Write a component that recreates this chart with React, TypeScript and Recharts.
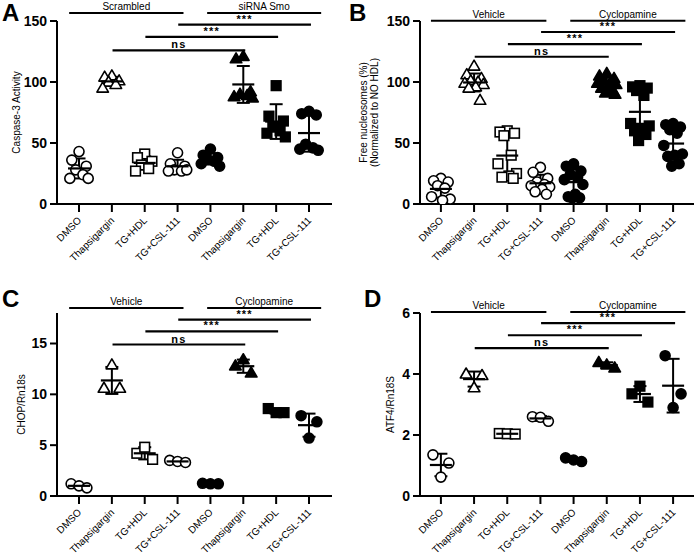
import React from 'react';
import { ComposedChart, Scatter, XAxis, YAxis, ErrorBar, ReferenceLine, Label } from 'recharts';

const categories = ['DMSO', 'Thapsigargin', 'TG+HDL', 'TG+CSL-111', 'DMSO', 'Thapsigargin', 'TG+HDL', 'TG+CSL-111'];
const markerKinds = ['circle', 'triangle', 'square', 'circle', 'circle', 'triangle', 'square', 'circle'];
const markerFilled = [false, false, false, false, true, true, true, true];
const bracketLabels = ['ns', '***', '***'];

// A: Caspase-3 activity, one list per group
const caspase3 = [
  [43, 36, 31, 28, 24, 21, 21],
  [105, 104, 101, 100, 98, 95],
  [41, 38, 35, 32, 29, 27],
  [42, 33, 31, 28, 27, 27, 28],
  [45, 40, 38, 37, 35, 33, 31],
  [121, 119, 92, 90, 89, 88, 87],
  [97, 72, 68, 63, 60, 58, 55],
  [76, 74, 73, 49, 46, 45, 44],
];

// B: free nucleosomes (%)
const nucleosomes = [
  [21, 19, 18, 15, 13, 6, 4, 3],
  [113, 106, 103, 101, 100, 99, 98, 96, 95, 85],
  [60, 59, 58, 56, 40, 33, 25, 23, 22, 21],
  [30, 26, 21, 18, 16, 15, 14, 12, 10, 8],
  [33, 31, 27, 24, 22, 20, 16, 8, 6, 5, 5],
  [107, 105, 103, 101, 100, 99, 98, 97, 95, 93, 91, 90],
  [97, 96, 95, 93, 89, 66, 64, 62, 60, 57, 52],
  [66, 65, 63, 61, 58, 48, 41, 40, 39, 33, 31],
];

// C: CHOP/Rn18s
const chop = [
  [1.2, 1.0, 0.8],
  [10.6, 12.9, 10.6],
  [4.2, 4.8, 3.6],
  [3.5, 3.4, 3.3],
  [1.25, 1.2, 1.2],
  [12.8, 13.4, 12.1],
  [8.6, 8.2, 8.2],
  [7.9, 5.7, 7.3],
];

// D: ATF4/Rn18S
const atf4 = [
  [1.35, 0.62, 1.08],
  [4.0, 3.55, 3.95],
  [2.05, 2.04, 2.03],
  [2.6, 2.58, 2.45],
  [1.25, 1.18, 1.13],
  [4.38, 4.3, 4.2],
  [3.35, 3.6, 3.08],
  [4.6, 2.9, 3.35],
];

const ticksA = [0, 50, 100, 150];
const ticksC = [0, 5, 10, 15];
const ticksD = [0, 2, 4, 6];

const FONT = '"Liberation Sans", Arial, Helvetica, sans-serif';

const jitterWide = [0, -0.22, 0.22, -0.1, 0.12, -0.28, 0.28, 0.05, -0.16, 0.18, -0.04, 0.25];
const jitterOf = (i: number, n: number) => (n <= 3 ? (i - 1) * 0.24 : jitterWide[i % jitterWide.length]);

const buildPoints = (groups: number[][]) =>
  groups.flatMap((vals, g) => vals.map((v, i) => ({ x: g + jitterOf(i, vals.length), y: v, group: g })));

const buildSummary = (groups: number[][]) =>
  groups.map((vals, g) => {
    const mean = vals.reduce((a, b) => a + b, 0) / vals.length;
    const sd = Math.sqrt(vals.reduce((a, b) => a + (b - mean) ** 2, 0) / (vals.length - 1));
    return { x: g, y: mean, sd };
  });

const Marker = (props: any) => {
  const { cx, cy, payload } = props;
  if (cx == null || cy == null) return null;
  const kind = markerKinds[payload.group];
  const fill = markerFilled[payload.group] ? '#000' : '#fff';
  if (kind === 'circle') return <circle cx={cx} cy={cy} r={5} fill={fill} stroke="#000" strokeWidth={1.6} />;
  if (kind === 'square') return <rect x={cx - 4.8} y={cy - 4.8} width={9.6} height={9.6} fill={fill} stroke="#000" strokeWidth={1.6} />;
  const h = 10;
  return (
    <polygon
      points={`${cx},${cy - h * 0.6} ${cx + 5.8},${cy + h * 0.4} ${cx - 5.8},${cy + h * 0.4}`}
      fill={fill}
      stroke="#000"
      strokeWidth={1.6}
      strokeLinejoin="round"
    />
  );
};

const MeanLine = (props: any) => {
  const { cx, cy } = props;
  if (cx == null || cy == null) return null;
  return <line x1={cx - 11} x2={cx + 11} y1={cy} y2={cy} stroke="#000" strokeWidth={2.2} />;
};

const CategoryTick = (props: any) => {
  const { x, y, payload } = props;
  const tx = x + 3;
  const ty = y + 7;
  return (
    <text x={tx} y={ty} transform={`rotate(-45, ${tx}, ${ty})`} textAnchor="end" fontSize={10} fill="#000" fontFamily={FONT}>
      {categories[payload.value]}
    </text>
  );
};

type PanelProps = {
  groups: number[][];
  yTicks: number[];
  yMax: number;
  yLabel: string[];
  groupLabels: string[];
  groupY: number;
  bracketY: number[];
  left: number;
  top: number;
  width: number;
  height: number;
  margin: { top: number; right: number; bottom: number; left: number };
  yAxisWidth: number;
  xAxisHeight: number;
  xDomain: [number, number];
  letter: string;
  letterPos: [number, number];
  labelX: number;
};

const Panel = (p: PanelProps) => {
  const points = buildPoints(p.groups);
  const summary = buildSummary(p.groups);
  const renderYLabel = (lp: any) => {
    const vb = lp.viewBox || {};
    const cy = vb.y + vb.height / 2;
    const cx = p.labelX;
    return (
      <text transform={`rotate(-90, ${cx}, ${cy})`} x={cx} y={cy} textAnchor="middle" fontSize={10} fill="#000" fontFamily={FONT}>
        {p.yLabel.map((line, i) => (
          <tspan key={i} x={cx} dy={i === 0 ? (p.yLabel.length > 1 ? -2 : 3) : 11}>
            {line}
          </tspan>
        ))}
      </text>
    );
  };
  return (
    <div style={{ position: 'absolute', left: p.left, top: p.top, width: p.width, height: p.height }}>
      <div
        style={{
          position: 'absolute',
          left: p.letterPos[0],
          top: p.letterPos[1],
          fontFamily: FONT,
          fontWeight: 700,
          fontSize: 24,
          lineHeight: '26px',
        }}
      >
        {p.letter}
      </div>
      <ComposedChart width={p.width} height={p.height} margin={p.margin} style={{ fontFamily: FONT }}>
        <XAxis
          type="number"
          dataKey="x"
          domain={p.xDomain}
          ticks={[0, 1, 2, 3, 4, 5, 6, 7]}
          interval={0}
          allowDataOverflow
          height={p.xAxisHeight}
          tick={<CategoryTick />}
          tickSize={8}
          tickMargin={2}
          axisLine={{ stroke: '#000', strokeWidth: 2 }}
          tickLine={{ stroke: '#000', strokeWidth: 2 }}
        />
        <YAxis
          type="number"
          dataKey="y"
          domain={[0, p.yMax]}
          ticks={p.yTicks}
          interval={0}
          allowDataOverflow
          width={p.yAxisWidth}
          tickSize={7}
          tickMargin={3}
          tick={{ fill: '#000', fontSize: 14, fontWeight: 700, fontFamily: FONT }}
          axisLine={{ stroke: '#000', strokeWidth: 2 }}
          tickLine={{ stroke: '#000', strokeWidth: 2 }}
        >
          <Label content={renderYLabel} />
        </YAxis>
        <ReferenceLine
          segment={[{ x: -0.3, y: p.groupY }, { x: 3.18, y: p.groupY }]}
          stroke="#000"
          strokeWidth={2}
          ifOverflow="visible"
          label={{ value: p.groupLabels[0], position: 'top', offset: 3, fill: '#000', fontSize: 10, fontFamily: FONT }}
        />
        <ReferenceLine
          segment={[{ x: 3.9, y: p.groupY }, { x: 7.37, y: p.groupY }]}
          stroke="#000"
          strokeWidth={2}
          ifOverflow="visible"
          label={{ value: p.groupLabels[1], position: 'top', offset: 3, fill: '#000', fontSize: 10, fontFamily: FONT }}
        />
        {bracketLabels.map((lab, i) => (
          <ReferenceLine
            key={i}
            segment={[{ x: i + 1.02, y: p.bracketY[i] }, { x: i + 5.06, y: p.bracketY[i] }]}
            stroke="#000"
            strokeWidth={2.2}
            ifOverflow="visible"
            label={{
              value: lab,
              position: 'top',
              offset: 2,
              fill: '#000',
              fontSize: 11,
              fontWeight: 700,
              letterSpacing: 1.2,
              fontFamily: FONT,
            }}
          />
        ))}
        <Scatter data={points} shape={<Marker />} isAnimationActive={false} />
        <Scatter data={summary} shape={<MeanLine />} isAnimationActive={false}>
          <ErrorBar dataKey="sd" direction="y" width={6.5} stroke="#000" strokeWidth={2} isAnimationActive={false} />
        </Scatter>
      </ComposedChart>
    </div>
  );
};

export default function App() {
  return (
    <div style={{ position: 'absolute', left: 0, top: 0, width: 697, height: 555, background: '#fff' }}>
      <Panel
        groups={caspase3}
        yTicks={ticksA}
        yMax={150}
        yLabel={['Caspase-3 Activity']}
        groupLabels={['Scrambled', 'siRNA Smo']}
        groupY={156.6}
        bracketY={[126, 137, 147]}
        left={0}
        top={0}
        width={347}
        height={280}
        margin={{ top: 21, right: 15, bottom: 0, left: 0 }}
        yAxisWidth={57}
        xAxisHeight={76}
        xDomain={[-0.67, 7.7]}
        letter="A"
        letterPos={[2, 0]}
        labelX={17}
      />
      <Panel
        groups={nucleosomes}
        yTicks={ticksA}
        yMax={150}
        yLabel={['Free nucleosomes (%)', '(Normalized to NO HDL)']}
        groupLabels={['Vehicle', 'Cyclopamine']}
        groupY={150.2}
        bracketY={[120.7, 131, 141]}
        left={347}
        top={0}
        width={350}
        height={280}
        margin={{ top: 21, right: 3, bottom: 0, left: 0 }}
        yAxisWidth={73}
        xAxisHeight={76}
        xDomain={[-0.63, 7.63]}
        letter="B"
        letterPos={[2, 0]}
        labelX={22}
      />
      <Panel
        groups={chop}
        yTicks={ticksC}
        yMax={18}
        yLabel={['CHOP/Rn18s']}
        groupLabels={['Vehicle', 'Cyclopamine']}
        groupY={18.5}
        bracketY={[14.9, 16.2, 17.35]}
        left={0}
        top={280}
        width={347}
        height={275}
        margin={{ top: 33, right: 15, bottom: 0, left: 0 }}
        yAxisWidth={57}
        xAxisHeight={59}
        xDomain={[-0.67, 7.7]}
        letter="C"
        letterPos={[2, 6]}
        labelX={22}
      />
      <Panel
        groups={atf4}
        yTicks={ticksD}
        yMax={6}
        yLabel={['ATF4/Rn18S']}
        groupLabels={['Vehicle', 'Cyclopamine']}
        groupY={6.03}
        bracketY={[4.85, 5.27, 5.67]}
        left={347}
        top={280}
        width={350}
        height={275}
        margin={{ top: 33, right: 3, bottom: 0, left: 0 }}
        yAxisWidth={73}
        xAxisHeight={59}
        xDomain={[-0.63, 7.63]}
        letter="D"
        letterPos={[17, 6]}
        labelX={44}
      />
    </div>
  );
}
